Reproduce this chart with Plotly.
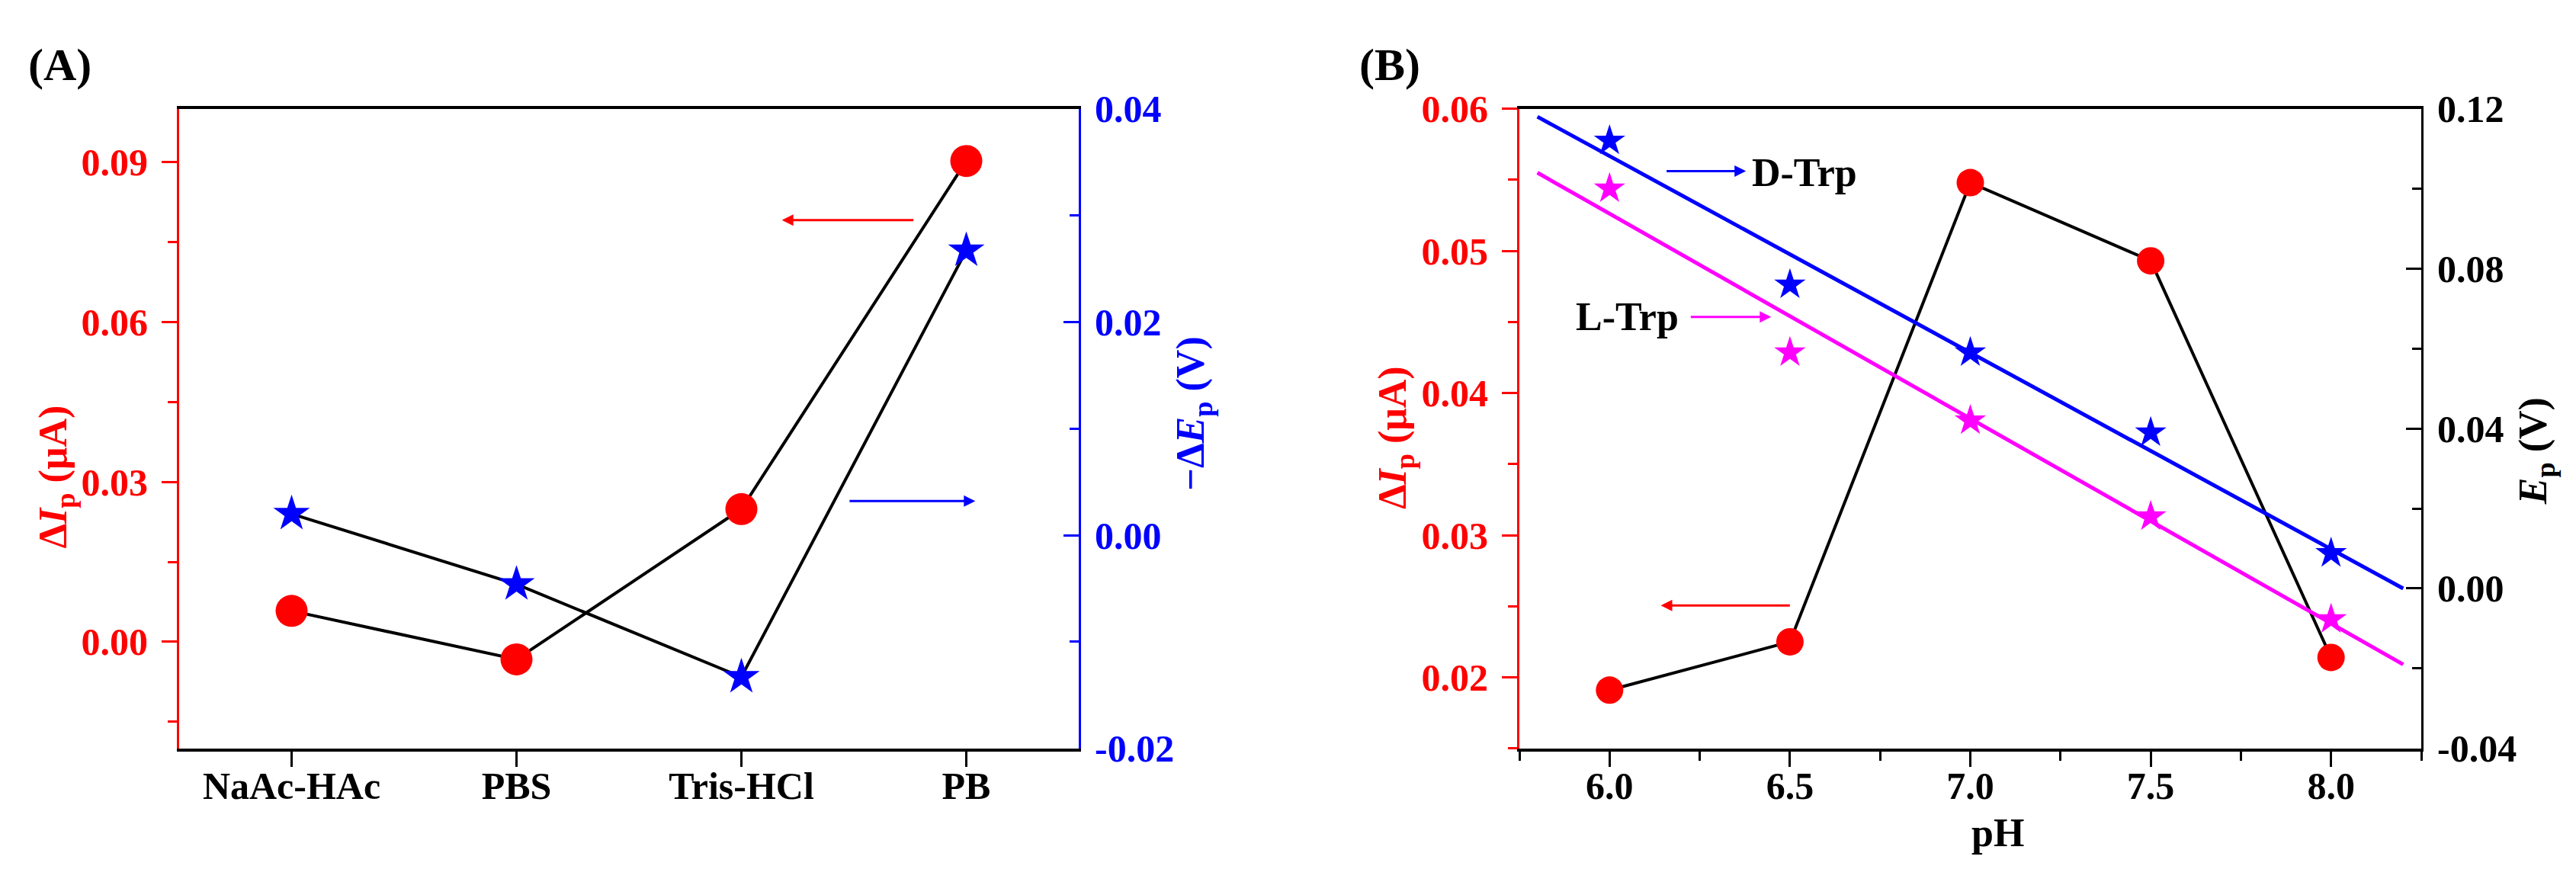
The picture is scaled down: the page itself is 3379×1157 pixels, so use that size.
import plotly.graph_objects as go

# ---- (A) buffer comparison ----
buffers = ["NaAc-HAc", "PBS", "Tris-HCl", "PB"]
dIp_buffer = [0.0058, -0.0033, 0.0249, 0.0902]       # uA
neg_dEp_buffer = [0.0020, -0.0046, -0.0133, 0.0267]  # V

# ---- (B) pH dependence ----
ph = [6.0, 6.5, 7.0, 7.5, 8.0]
dIp_ph = [0.0191, 0.0225, 0.0548, 0.0493, 0.0214]
ep_d_trp = [0.112, 0.076, 0.059, 0.039, 0.0088]
ep_l_trp = [0.100, 0.059, 0.042, 0.018, -0.0077]

# linear fits, end points
fit_ph = [5.8, 8.2]
fit_d_trp = [0.118, 0.0]
fit_l_trp = [0.104, -0.019]

# tick values / labels
a_left_ticks = [0.0, 0.03, 0.06, 0.09]
a_left_labels = ["0.00", "0.03", "0.06", "0.09"]
a_left_minor = [-0.015, 0.015, 0.045, 0.075]
a_right_ticks = [-0.02, 0.0, 0.02, 0.04]
a_right_labels = ["-0.02", "0.00", "0.02", "0.04"]
a_right_minor = [-0.01, 0.01, 0.03]
b_left_ticks = [0.02, 0.03, 0.04, 0.05, 0.06]
b_left_labels = ["0.02", "0.03", "0.04", "0.05", "0.06"]
b_left_minor = [0.015, 0.025, 0.035, 0.045, 0.055]
b_right_ticks = [-0.04, 0.0, 0.04, 0.08, 0.12]
b_right_labels = ["-0.04", "0.00", "0.04", "0.08", "0.12"]
b_right_minor = [-0.02, 0.02, 0.06, 0.10]
ph_ticks = [6.0, 6.5, 7.0, 7.5, 8.0]
ph_labels = ["6.0", "6.5", "7.0", "7.5", "8.0"]
ph_minor = [5.75, 6.25, 6.75, 7.25, 7.75, 8.25]

W, H = 3379, 1157
FONT = "Liberation Serif"
RED, BLUE, MAGENTA, BLACK = "#ff0000", "#0000ff", "#ff00ff", "#000000"


def px(x):
    return x / W


def py(y):
    return 1 - y / H


fig = go.Figure()

# panel A
fig.add_trace(go.Scatter(x=buffers, y=dIp_buffer, xaxis="x", yaxis="y",
                         mode="lines+markers",
                         line=dict(color=BLACK, width=4),
                         marker=dict(symbol="circle", size=42, color=RED)))
fig.add_trace(go.Scatter(x=buffers, y=neg_dEp_buffer, xaxis="x", yaxis="y2",
                         mode="lines+markers",
                         line=dict(color=BLACK, width=4),
                         marker=dict(symbol="star", size=36, color=BLUE)))

# panel B
fig.add_trace(go.Scatter(x=ph, y=dIp_ph, xaxis="x2", yaxis="y3",
                         mode="lines+markers",
                         line=dict(color=BLACK, width=4),
                         marker=dict(symbol="circle", size=36, color=RED)))
fig.add_trace(go.Scatter(x=fit_ph, y=fit_d_trp, xaxis="x2", yaxis="y4",
                         mode="lines", line=dict(color=BLUE, width=5)))
fig.add_trace(go.Scatter(x=fit_ph, y=fit_l_trp, xaxis="x2", yaxis="y4",
                         mode="lines", line=dict(color=MAGENTA, width=5)))
fig.add_trace(go.Scatter(x=ph, y=ep_d_trp, xaxis="x2", yaxis="y4",
                         mode="markers",
                         marker=dict(symbol="star", size=31, color=BLUE)))
fig.add_trace(go.Scatter(x=ph, y=ep_l_trp, xaxis="x2", yaxis="y4",
                         mode="markers",
                         marker=dict(symbol="star", size=31, color=MAGENTA)))


def tfont(color):
    return dict(family=FONT, size=50, color=color, weight="bold")


def yax(color, rng, tv, tt, minor_vals, side="left", ticks="outside", **kw):
    return dict(range=rng, side=side, showline=True, linecolor=color, linewidth=3,
                tickmode="array", tickvals=tv, ticktext=tt,
                ticks=ticks, ticklen=20, tickwidth=3, tickcolor=color,
                tickfont=tfont(color), ticklabelstandoff=8,
                minor=dict(tickmode="array", tickvals=minor_vals, ticks=ticks,
                           ticklen=12, tickwidth=3, tickcolor=color),
                showgrid=False, zeroline=False, **kw)


dom_y = [py(994), py(113)]
fig.update_layout(
    width=W, height=H,
    margin=dict(l=0, r=0, t=0, b=0),
    paper_bgcolor="white", plot_bgcolor="white",
    showlegend=False,
    xaxis=dict(domain=[px(227), px(1407)], anchor="y", type="category",
               range=[-0.5, 3.5], showline=True, linecolor=BLACK, linewidth=4,
               mirror=True, ticks="outside", ticklen=20, tickwidth=3,
               tickcolor=BLACK, tickfont=tfont(BLACK), ticklabelstandoff=-18,
               showgrid=False, zeroline=False),
    yaxis=yax(RED, [-0.02, 0.10], a_left_ticks, a_left_labels, a_left_minor,
              domain=dom_y, anchor="x"),
    yaxis2=yax(BLUE, [-0.02, 0.04], a_right_ticks, a_right_labels, a_right_minor,
               side="right", ticks="inside", overlaying="y", anchor="x"),
    xaxis2=dict(domain=[px(1985), px(3168)], anchor="y3",
                range=[5.75, 8.25], showline=True, linecolor=BLACK, linewidth=4,
                mirror=True, tickmode="array", tickvals=ph_ticks, ticktext=ph_labels,
                ticks="outside", ticklen=20, tickwidth=3, tickcolor=BLACK,
                tickfont=tfont(BLACK), ticklabelstandoff=-18,
                minor=dict(tickmode="array", tickvals=ph_minor, ticks="outside",
                           ticklen=12, tickwidth=3, tickcolor=BLACK),
                showgrid=False, zeroline=False),
    yaxis3=yax(RED, [0.015, 0.06], b_left_ticks, b_left_labels, b_left_minor,
               domain=dom_y, anchor="x2"),
    yaxis4=yax(BLACK, [-0.04, 0.12], b_right_ticks, b_right_labels, b_right_minor,
               side="right", ticks="inside", overlaying="y3", anchor="x2"),
)


def label(text, x, y, color=BLACK, size=52, angle=0, xanchor="center"):
    fig.add_annotation(text=text, x=x, y=y, xref="paper", yref="paper",
                       showarrow=False, textangle=angle, xanchor=xanchor,
                       yanchor="middle",
                       font=dict(family=FONT, size=size, color=color, weight="bold"))


label("(A)", px(70), py(53), size=60)
label("(B)", px(1815), py(53), size=60)
label("Δ<i>I</i><sub>p</sub> (μA)", px(66), py(620), RED, angle=-90)
label("−Δ<i>E</i><sub>p</sub> (V)", px(1558), py(533), BLUE, angle=-90)
label("Δ<i>I</i><sub>p</sub> (μA)", px(1822), py(566), RED, angle=-90)
label("<i>E</i><sub>p</sub> (V)", px(3318), py(585), BLACK, angle=-90)
label("pH", px(2612), py(1110))


def arrow(x0, y0, x1, y1, xr, yr, color):
    fig.add_annotation(x=x1, y=y1, ax=x0, ay=y0, xref=xr, yref=yr,
                       axref=xr, ayref=yr, text="", showarrow=True,
                       arrowhead=2, arrowsize=1, arrowwidth=3, arrowcolor=color)


arrow(2.77, 0.0791, 2.18, 0.0791, "x", "y", RED)
arrow(2.476, 0.0264, 3.04, 0.0264, "x", "y", BLUE)
arrow(6.155, 0.1044, 6.378, 0.1044, "x2", "y4", BLUE)
arrow(6.222, 0.0679, 6.448, 0.0679, "x2", "y4", MAGENTA)
arrow(6.503, 0.02506, 6.142, 0.02506, "x2", "y3", RED)

fig.add_annotation(text="D-Trp", x=6.39, y=0.1040, xref="x2", yref="y4",
                   showarrow=False, xanchor="left",
                   font=dict(family=FONT, size=52, color=BLACK, weight="bold"))
fig.add_annotation(text="L-Trp", x=6.195, y=0.0679, xref="x2", yref="y4",
                   showarrow=False, xanchor="right",
                   font=dict(family=FONT, size=52, color=BLACK, weight="bold"))

fig.write_html("out.html")
